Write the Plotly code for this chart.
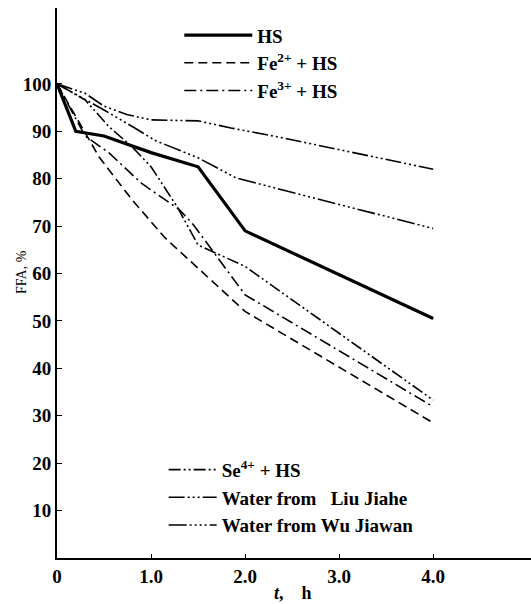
import plotly.graph_objects as go

# time, h
t_hs = [0, 0.2, 0.5, 1.0, 1.5, 2.0, 4.0]
ffa_hs = [100, 90, 89, 85.5, 82.5, 69, 50.5]

t_fe2 = [0, 0.45, 0.8, 1.15, 2.0, 4.0]
ffa_fe2 = [100, 84.5, 75.5, 67.5, 52, 28.5]

t_fe3 = [0, 0.3, 0.55, 0.9, 1.3, 1.45, 2.0, 4.0]
ffa_fe3 = [100, 89, 85.5, 79, 73.5, 70.3, 55.5, 31.9]

t_se = [0, 0.3, 0.55, 0.8, 1.0, 1.28, 1.5, 2.0, 4.0]
ffa_se = [100, 96.6, 91, 86.7, 82.5, 74, 66, 61.5, 33.3]

t_liu = [0, 0.3, 0.5, 0.75, 1.0, 1.5, 1.85, 2.4, 4.0]
ffa_liu = [100, 98, 95.3, 93.5, 92.4, 92.2, 90.7, 88.6, 82]

t_wu = [0, 0.5, 0.8, 1.05, 1.5, 1.9, 2.4, 4.0]
ffa_wu = [100, 94.5, 91, 88, 84.4, 80.2, 77.6, 69.5]

series = [
    ("HS", t_hs, ffa_hs, "solid", 3.2, "legend"),
    ("Fe<sup>2+</sup> + HS", t_fe2, ffa_fe2, "9px,5px", 1.6, "legend"),
    ("Fe<sup>3+</sup> + HS", t_fe3, ffa_fe3, "12px,4px,2px,4px", 1.6, "legend"),
    ("Se<sup>4+</sup> + HS", t_se, ffa_se, "12px,3px,2px,3px,2px,3px", 1.6, "legend2"),
    ("Water from   Liu Jiahe", t_liu, ffa_liu, "16px,3px,2px,3px,2px,3px,2px,3px", 1.6, "legend2"),
    ("Water from Wu Jiawan", t_wu, ffa_wu, "18px,3px,2px,3px,2px,3px,2px,3px,2px,3px", 1.6, "legend2"),
]

fig = go.Figure()
for name, x, y, dash, w, lg in series:
    fig.add_trace(go.Scatter(x=x, y=y, mode="lines", name=name,
                             line=dict(color="black", width=w, dash=dash),
                             legend=lg))

serif = "Liberation Serif"
axis_common = dict(showline=True, linecolor="black", showgrid=False, zeroline=False,
                   ticks="inside", tickcolor="black",
                   tickfont=dict(family=serif, size=19, color="black", weight="bold"))

fig.update_layout(
    width=531, height=604,
    margin=dict(l=57, r=0, t=8, b=46),
    plot_bgcolor="white", paper_bgcolor="white",
    xaxis=dict(range=[0, 5.04], tickvals=[0, 1, 2, 3, 4], ticktext=["0", "1.0", "2.0", "3.0", "4.0"],
               linewidth=1.5, ticklen=4, **axis_common),
    yaxis=dict(range=[0, 116], tickvals=[10, 20, 30, 40, 50, 60, 70, 80, 90, 100],
               linewidth=2, ticklen=5, **axis_common),
    legend=dict(x=0.258, y=0.985, xanchor="left", yanchor="top", bgcolor="rgba(0,0,0,0)",
                font=dict(family=serif, size=19, color="black", weight="bold"),
                itemwidth=68, tracegroupgap=0),
    legend2=dict(x=0.225, y=0.195, xanchor="left", yanchor="top", bgcolor="rgba(0,0,0,0)",
                 font=dict(family=serif, size=19, color="black", weight="bold"),
                 itemwidth=48, tracegroupgap=0),
    annotations=[
        dict(text="FFA, %", xref="paper", yref="paper", x=-0.076, y=0.52, textangle=-90,
             xanchor="center", yanchor="middle",
             showarrow=False, font=dict(family=serif, size=14, color="black")),
        dict(text="<i>t</i>,    h", xref="paper", yref="paper", x=0.498, y=-0.0636,
             xanchor="center", yanchor="middle",
             showarrow=False, font=dict(family=serif, size=18, color="black", weight="bold")),
    ],
)

fig.write_html("out.html")
